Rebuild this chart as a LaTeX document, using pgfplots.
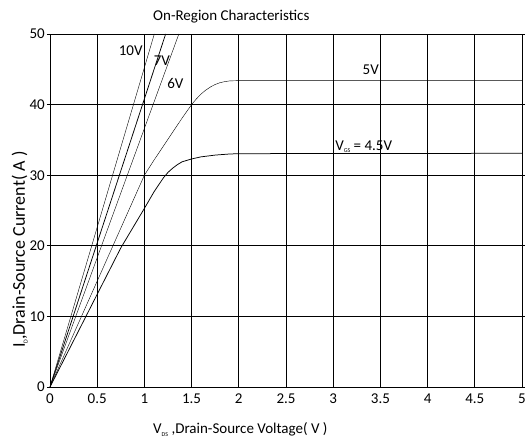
\documentclass[border=0pt]{standalone}
\usepackage{pgfplots}
\pgfplotsset{compat=1.18}
\usepackage{fontspec}
\setmainfont{Carlito}
\newcommand{\sub}[1]{\raisebox{-0.3ex}{\fontsize{6}{6}\selectfont #1}}
\begin{document}
\begin{tikzpicture}
\useasboundingbox (-50pt,-57pt) rectangle (475pt,387pt);
\begin{axis}[
  at={(0,0)}, anchor=south west,
  scale only axis, width=472pt, height=353pt,
  xmin=0, xmax=5, ymin=0, ymax=50,
  xtick={0,0.5,...,5}, ytick={0,10,...,50},
  xticklabels={0,0.5,1,1.5,2,2.5,3,3.5,4,4.5,5},
  grid=major,
  major grid style={black, line width=0.6pt},
  axis line style={black, line width=0.8pt},
  ytick style={black, line width=0.6pt},
  xtick style={draw=none},
  tick align=outside, major tick length=3pt,
  tick label style={font=\fontsize{15}{15}\selectfont},
  /pgf/number format/assume math mode=true,
  yticklabel style={inner sep=1pt, xshift=-1pt},
  xticklabel style={inner sep=1pt, yshift=-3pt},
  cycle list={{black, line width=0.75pt, mark=none}},
]
\addplot coordinates {(0,0) (1.105,50)};
\addplot coordinates {(0,0) (1.225,50)};
\addplot coordinates {(0,0) (1.365,50)};
\addplot coordinates {(0,0) (0.9,27.0) (1.0,30) (1.1,32.1) (1.2,34.1) (1.3,36.1) (1.4,38.1) (1.5,40) (1.55,40.8) (1.6,41.5) (1.65,42.05) (1.7,42.5) (1.75,42.85) (1.8,43.1) (1.85,43.25) (1.9,43.35) (2,43.4) (5,43.4)};
\addplot coordinates {(0,0) (0.75,19.7) (1.0,25.3) (1.1,27.6) (1.2,29.6) (1.25,30.4) (1.3,31.0) (1.35,31.5) (1.4,31.9) (1.5,32.3) (1.6,32.6) (1.75,32.85) (1.9,33.0) (2,33.05) (5,33.1)};
\node[anchor=base west, font=\fontsize{15}{15}\selectfont, inner sep=0pt] at (axis cs:0.727,47.0) {10V};
\node[anchor=base west, font=\fontsize{15}{15}\selectfont, inner sep=0pt] at (axis cs:1.097,45.5) {7V};
\node[anchor=base west, font=\fontsize{15}{15}\selectfont, inner sep=0pt] at (axis cs:1.24,42.3) {6V};
\node[anchor=base west, font=\fontsize{15}{15}\selectfont, inner sep=0pt] at (axis cs:3.31,44.3) {5V};
\node[anchor=base west, font=\fontsize{15}{15}\selectfont, inner sep=0pt] at (axis cs:3.02,33.5) {V\sub{GS} = 4.5V};
\end{axis}
\node[anchor=base west, font=\fontsize{15}{15}\selectfont, inner sep=0pt] at (103pt,366pt) {On-Region Characteristics};
\node[anchor=base west, font=\fontsize{15}{15}\selectfont, inner sep=0pt] at (103pt,-47pt) {V\sub{DS} ,Drain-Source Voltage( V )};
\node[rotate=90, anchor=base west, font=\fontsize{18}{18}\selectfont, inner sep=0pt] at (-25pt,39pt) {I\sub{D},Drain-Source Current( A )};
\end{tikzpicture}
\end{document}
